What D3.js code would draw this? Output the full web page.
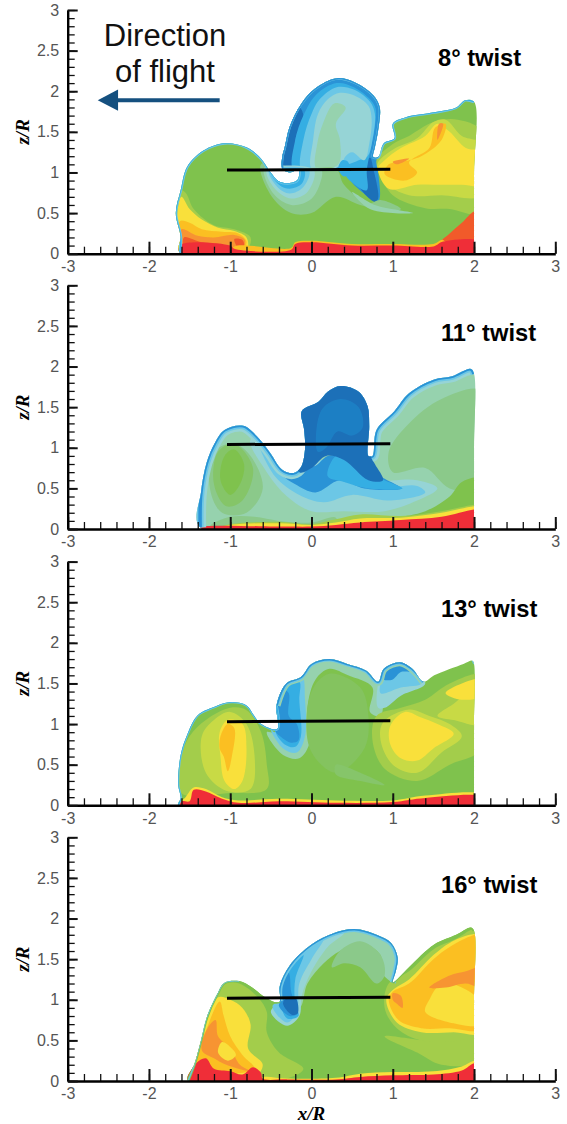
<!DOCTYPE html>
<html><head><meta charset="utf-8">
<script src="https://cdn.jsdelivr.net/npm/d3@7"></script>
<style>html,body{margin:0;padding:0;background:#fff}svg{display:block}</style>
</head><body><div id="chart"></div>
<script>
const xMajor=[-3,-2,-1,0,1,2,3];
const zMajor=[0,0.5,1,1.5,2,2.5,3];
const panelTitles=["8° twist","11° twist","13° twist","16° twist"];
const DB='#1f6fb8',B='#2b93d6',M='#36aee3',L='#6cc7e6',P='#96d4d6',PG='#96d2ae',SG='#8bc98a',G='#7fc24e',YG='#a3cd4c',LY='#c8da45',Y='#f9e03a',A='#fbbf24',O='#f79433',RO='#f15a2c',R='#ef2f38';

const p1Env=[[-1.62,0.01],[-1.61,0.21],[-1.67,0.5],[-1.61,0.78],[-1.53,1.07],[-1.33,1.27],[-1.07,1.36],[-0.8,1.31],[-0.62,1.17],[-0.51,1.01],[-0.4,0.89],[-0.27,0.87],[-0.17,0.91],[-0.16,1.03],[-0.27,1],[-0.36,1.05],[-0.36,1.19],[-0.33,1.31],[-0.27,1.56],[-0.13,1.84],[0.04,2.03],[0.31,2.16],[0.53,2.11],[0.76,1.95],[0.84,1.8],[0.82,1.52],[0.78,1.31],[0.76,1.19],[0.82,1.19],[0.89,1.36],[1.02,1.42],[1,1.6],[1.16,1.68],[1.51,1.74],[1.78,1.8],[1.89,1.89],[2,1.87],[2,1],[2,0.02],[2,0]];
const p1Under=[[G,[[-1.9,-0.2],[-1.9,2.4],[2.3,2.4],[2.3,-0.2]]],
[B,[[-0.36,1.03],[-0.37,1.2],[-0.3,1.5],[-0.13,1.86],[0.04,2.05],[0.31,2.18],[0.55,2.13],[0.78,1.97],[0.86,1.8],[0.84,1.5],[0.8,1.25],[0.82,0.65],[0.55,0.82],[0.38,1],[0.1,1.03]]],
[DB,[[-0.36,1.03],[-0.38,1.2],[-0.3,1.5],[-0.15,1.8],[-0.1,1.7],[-0.2,1.4],[-0.2,1.03]]],
[DB,[[0.58,0.85],[0.78,0.64],[0.82,0.68],[0.76,1.05],[0.72,1.18],[0.62,1.03]]],
[M,[[-0.22,1.03],[-0.2,1.4],[-0.1,1.7],[0.06,1.96],[0.31,2.1],[0.52,2.05],[0.72,1.9],[0.79,1.78],[0.77,1.5],[0.72,1.25],[0.68,1.02],[0.68,0.78],[0.45,0.92],[0.33,1.1],[0.1,1.03]]],
[L,[[-0.12,1.03],[-0.1,1.4],[0,1.72],[0.1,1.9],[0.31,2.05],[0.52,2.02],[0.72,1.87],[0.78,1.72],[0.75,1.4],[0.69,1.2],[0.58,1.15],[0.45,1.1],[0.33,1.1],[0.15,1.03]]],
[P,[[0,1.05],[0.02,1.4],[0.08,1.72],[0.2,1.9],[0.35,1.98],[0.52,1.95],[0.7,1.82],[0.74,1.65],[0.71,1.35],[0.65,1.15],[0.5,1.25],[0.42,1.2],[0.35,1.08],[0.15,1.03]]],
[M,[[0.33,1.05],[0.38,1.15],[0.45,1.13],[0.47,1],[0.4,0.95]]],
[PG,[[0.06,1.05],[0.07,1.35],[0.14,1.6],[0.28,1.85],[0.42,1.8],[0.3,1.6],[0.35,1.4],[0.33,1.1]]],
[SG,[[-0.62,1.1],[-0.5,0.72],[-0.25,0.5],[0,0.5],[0.3,0.7],[0.6,0.6],[0.95,0.52],[1.1,0.55],[0.85,0.66],[0.7,0.62],[0.4,0.85],[0.3,1.05],[0,1.05],[-0.16,1.05]]],
[PG,[[-0.58,1.06],[-0.47,0.74],[-0.25,0.6],[-0.02,0.66],[0.1,0.85],[0.12,1.04],[-0.16,1.05]]],
[P,[[-0.55,1.03],[-0.45,0.8],[-0.25,0.68],[-0.05,0.76],[0.03,1.03]]],
[L,[[-0.52,1.02],[-0.42,0.82],[-0.27,0.74],[-0.1,0.82],[-0.03,1.03]]],
[M,[[-0.5,1],[-0.4,0.85],[-0.27,0.8],[-0.12,0.86],[-0.09,1.03]]],
[PG,[[0.5,0.76],[0.78,0.6],[1.05,0.54],[1.25,0.5],[1,0.5],[0.7,0.56]]],
[YG,[[0.8,1.15],[0.86,0.95],[1,0.72],[1.4,0.56],[1.7,0.55],[2.1,0.5],[2.1,1.5],[1.8,1.65],[1.5,1.62],[1.2,1.45],[1,1.35]]],
[LY,[[0.81,1.1],[0.9,0.88],[1.2,0.72],[1.6,0.72],[2.1,0.72],[2.1,1.35],[1.85,1.45],[1.65,1.65],[1.5,1.62],[1.3,1.42],[1,1.28]]],
[Y,[[0.82,1.05],[0.95,0.8],[1.3,0.85],[1.6,0.85],[1.85,0.85],[2.1,0.85],[2.1,1.25],[1.9,1.3],[1.7,1.5],[1.55,1.6],[1.4,1.45],[1.1,1.3],[0.9,1.15]]],
[A,[[0.95,1.1],[0.9,0.98],[1.15,0.9],[1.3,1],[1.2,1.12],[1.45,1.3],[1.52,1.55],[1.65,1.6],[1.6,1.4],[1.35,1.2],[1.1,1.13]]],
[O,[[1,1.13],[1.2,1.17],[1.05,1.1]]],[O,[[1.55,1.4],[1.62,1.6],[1.57,1.6]]],
[YG,[[-1.65,0.8],[-1.55,0.75],[-1.45,0.55],[-1.2,0.35],[-0.95,0.3],[-0.75,0.2],[-0.8,0.05],[-1.65,0]]],
[Y,[[-1.6,0.7],[-1.5,0.55],[-1.35,0.42],[-1.15,0.32],[-0.95,0.28],[-0.8,0.2],[-0.8,0.05],[-1.65,0.02],[-1.66,0.4]]],
[A,[[-1.62,0.4],[-1.5,0.38],[-1.35,0.3],[-1.1,0.27],[-0.9,0.25],[-0.8,0.15],[-0.85,0.05],[-1.6,0.03]]],
[O,[[-1.6,0.3],[-1.4,0.22],[-1.2,0.2],[-0.95,0.23],[-0.82,0.17],[-0.85,0.08],[-1.58,0.05]]],
[RO,[[-1.57,0.2],[-1.35,0.14],[-1.1,0.1],[-1,0.06],[-1.55,0.05]]],[RO,[[-0.95,0.18],[-0.85,0.17],[-0.83,0.09],[-0.9,0.07]]],
[RO,[[1.55,0.1],[1.7,0.25],[1.85,0.38],[2,0.52],[2.1,0.52],[2.1,0.1]]],
[A,[[-1,0],[-0.95,0.09],[-0.25,0.07],[-0.2,0.14],[0,0.16],[0.5,0.12],[1,0.12],[1.5,0.12],[1.62,0.17],[1.7,0],[0,-0.05]]],
[R,[[-1.62,0],[-1.61,0.11],[-1,0.1],[-0.95,0.06],[-0.25,0.05],[-0.2,0.12],[0,0.14],[0.5,0.1],[1,0.1],[1.5,0.09],[1.62,0.15],[2.1,0.15],[2.1,0]]]];
const p1Rim=[[3,L,0,36],[1.2,M,0,15],[2.4,B,15,28],[1.2,M,28,36]];
const p1Over=[];
const p1Bar=[[-1.04,1.03],[0.97,1.04]];

const p2Env=[[-1.37,0.02],[-1.36,0.45],[-1.29,0.82],[-1.19,1.06],[-1.07,1.22],[-0.84,1.27],[-0.67,1.14],[-0.51,0.94],[-0.36,0.73],[-0.22,0.69],[-0.13,0.76],[-0.08,0.98],[-0.09,1.22],[-0.12,1.45],[0.09,1.57],[0.2,1.69],[0.36,1.76],[0.58,1.69],[0.69,1.51],[0.71,1.27],[0.7,0.9],[0.75,0.9],[0.8,1.22],[1.02,1.45],[1.2,1.67],[1.51,1.84],[1.73,1.88],[1.96,1.97],[2,1.91],[2,1],[2,0.02],[2,0]];
const p2Under=[[PG,[[-1.5,-0.2],[-1.5,2.4],[2.3,2.4],[2.3,-0.2]]],
[SG,[[-1.2,0.95],[-1.25,0.5],[-1.1,0.2],[-0.8,0.2],[-0.6,0.5],[-0.75,0.9],[-0.95,1.05]]],
[SG,[[0.95,0.95],[1.2,1.3],[1.6,1.6],[2.1,1.7],[2.1,0.5],[1.7,0.5],[1.4,0.75],[1,0.7]]],
['#85c568',[[-1.15,0.95],[-1.2,0.55],[-1.05,0.28],[-0.85,0.35],[-0.72,0.75],[-0.95,1.05]]],
[G,[[-1.07,0.9],[-1.12,0.6],[-1,0.42],[-0.88,0.55],[-0.83,0.8],[-0.95,0.98]]],
[SG,[[-1.25,0.03],[-1,0.15],[-0.7,0.15],[-0.4,0.1],[0,0.08],[0.3,0.14],[0.3,0],[-1,-0.05]]],
[G,[[0.6,0.12],[1,0.14],[1.4,0.22],[1.7,0.4],[1.85,0.58],[2.1,0.62],[2.1,0.1]]],
[P,[[-0.75,1.1],[-0.55,0.7],[-0.3,0.4],[0,0.22],[0.4,0.22],[0.9,0.22],[1.3,0.35],[1.55,0.5],[1.3,0.6],[0.6,0.6],[0,0.9]]],
[L,[[-0.65,1.05],[-0.45,0.65],[-0.15,0.42],[0.15,0.33],[0.5,0.42],[0.95,0.35],[1.4,0.45],[1.3,0.53],[1,0.52],[0.6,0.52],[0.3,0.68],[0.2,0.8],[0.12,0.85],[0.05,0.65],[-0.15,0.55],[-0.35,0.68]]],
[B,[[-0.55,0.98],[-0.38,0.68],[-0.2,0.55],[0.05,0.45],[0.35,0.6],[0.65,0.5],[1.1,0.5],[0.9,0.62],[0.75,0.7],[0.45,0.88],[0.2,0.9],[0.05,0.78],[-0.1,0.75],[-0.2,0.68],[-0.38,0.73]]],
[M,[[0.2,0.65],[0.3,0.9],[0.45,0.88],[0.6,0.75],[0.9,0.6],[1.12,0.5],[0.7,0.5],[0.4,0.58]]],
[YG,[[-1.2,0],[-1,0.06],[-0.4,0.09],[0,0.06],[0.3,0.12],[0.6,0.18],[1.1,0.16],[1.6,0.22],[2,0.3],[2.1,0.3],[2.1,0]]],
[Y,[[-1.2,0],[-1,0.05],[-0.4,0.07],[0,0.05],[0.3,0.08],[0.6,0.13],[1.1,0.14],[1.6,0.2],[2,0.28],[2.1,0.28],[2.1,0]]],
[R,[[-1.37,0],[-1.37,0.02],[-0.4,0.03],[0,0.03],[0.3,0.05],[0.6,0.08],[1.1,0.11],[1.6,0.15],[2,0.24],[2.1,0.24],[2.1,0]]]];
const p2Rim=[[12,P,0,28],[7,L,0,28],[3.5,B,0,28]];
const p2Over=[[DB,[[-0.15,0.7],[-0.14,1.5],[0.1,1.6],[0.2,1.72],[0.36,1.8],[0.6,1.72],[0.75,1.5],[0.73,0.9],[0.78,0.8],[0.88,0.6],[0.7,0.6],[0.4,0.85],[0.18,0.9],[0,0.75]]],
['#1f7fc4',[[0.08,0.95],[0.07,1.3],[0.15,1.5],[0.36,1.6],[0.58,1.5],[0.63,1.25],[0.5,1.15],[0.32,1.2],[0.18,1]]]];
const p2Bar=[[-1.04,1.04],[0.97,1.05]];

const p3Env=[[-1.64,0],[-1.61,0.09],[-1.64,0.25],[-1.61,0.62],[-1.53,0.87],[-1.4,1.11],[-1.2,1.21],[-1.02,1.27],[-0.8,1.23],[-0.71,1.11],[-0.62,1],[-0.42,0.94],[-0.43,1.23],[-0.31,1.5],[-0.13,1.58],[0,1.74],[0.22,1.8],[0.44,1.74],[0.67,1.66],[0.82,1.52],[0.89,1.68],[1.09,1.76],[1.24,1.68],[1.38,1.52],[1.51,1.6],[1.87,1.74],[1.98,1.78],[2,1.74],[2,1],[2,0.02],[2,0]];
const p3Under=[[G,[[-1.9,-0.2],[-1.9,2.4],[2.3,2.4],[2.3,-0.2]]],
[PG,[[-0.45,0.9],[-0.45,1.25],[-0.3,1.52],[-0.1,1.6],[0,1.77],[0.22,1.83],[0.5,1.77],[0.7,1.68],[0.85,1.5],[0.85,1.1],[0.72,1.15],[0.75,1.45],[0.45,1.6],[0.22,1.68],[0.05,1.55],[-0.05,1.2],[-0.02,0.78],[-0.15,0.58],[-0.35,0.62],[-0.55,0.9]]],
[L,[[-0.45,0.9],[-0.45,1.25],[-0.3,1.52],[-0.12,1.6],[-0.08,1.3],[-0.08,0.85],[-0.18,0.65],[-0.35,0.7],[-0.5,0.93]]],
[M,[[-0.45,0.92],[-0.45,1.25],[-0.32,1.5],[-0.15,1.52],[-0.15,1.3],[-0.13,0.85],[-0.2,0.72],[-0.33,0.75]]],
[B,[[-0.45,0.92],[-0.45,1.22],[-0.36,1.42],[-0.28,1.38],[-0.28,1.1],[-0.18,1],[-0.16,0.8],[-0.25,0.77],[-0.36,0.83]]],
[P,[[0.82,1.2],[0.82,1.5],[0.9,1.7],[1.09,1.78],[1.26,1.68],[1.4,1.5],[1.1,1.35],[0.9,1.2]]],
[L,[[0.85,1.38],[0.9,1.62],[1.09,1.72],[1.25,1.62],[1.35,1.5],[1.1,1.45]]],
[B,[[0.89,1.55],[0.92,1.68],[1.09,1.77],[1.23,1.65],[1.1,1.64],[1,1.55]]],
['#84c35f',[[-0.02,0.7],[0,1.4],[0.22,1.62],[0.6,1.45],[0.7,1.1],[0.65,0.7],[0.3,0.4]]],
['#86c56a',[[0.3,0.5],[0.6,0.4],[0.9,0.25],[0.6,0.3],[0.3,0.38]]],
[YG,[[-1.6,0.6],[-1.5,0.85],[-1.3,1.05],[-1,1.2],[-0.8,1.17],[-0.62,0.9],[-0.55,0.5],[-0.55,0.2],[-1,0.15],[-1.6,0.15]]],
[LY,[[-1.35,0.85],[-1.2,1.05],[-1,1.15],[-0.8,1],[-0.7,0.6],[-0.75,0.2],[-1.05,0.18],[-1.3,0.4]]],
[Y,[[-1.13,0.9],[-1.03,1.05],[-0.85,1],[-0.8,0.7],[-0.85,0.3],[-0.95,0.2],[-1.07,0.3],[-1.12,0.6]]],
[A,[[-1.12,0.85],[-1.03,1],[-0.95,0.95],[-0.98,0.6],[-1.03,0.42],[-1.08,0.6],[-1.13,0.7]]],
[YG,[[0.8,1.1],[0.75,0.8],[0.9,0.45],[1.3,0.3],[1.7,0.5],[2.1,0.7],[2.1,1.6],[1.7,1.5],[1.4,1.3],[1.1,1.2]]],
[LY,[[0.88,1.02],[0.85,0.8],[1,0.5],[1.3,0.4],[1.6,0.65],[1.85,0.85],[1.7,1],[1.45,1.1],[1.2,1.18]]],
[Y,[[0.97,0.98],[0.97,0.75],[1.1,0.58],[1.3,0.55],[1.5,0.7],[1.75,0.88],[1.55,1],[1.35,1.08],[1.15,1.15]]],
[LY,[[1.55,1.1],[1.75,1.25],[2.1,1.5],[2.1,1],[1.75,1.05]]],
[Y,[[1.65,1.38],[1.85,1.5],[2.1,1.55],[2.1,1.35],[1.85,1.3]]],
[Y,[[-1.64,0],[-1.55,0.1],[-1.45,0.22],[-1.3,0.2],[-1.1,0.1],[-0.9,0.06],[-0.4,0.08],[0.3,0.06],[1,0.06],[1.4,0.12],[2.1,0.13],[2.1,0]]],
[R,[[-1.64,0],[-1.6,0.05],[-1.5,0.05],[-1.45,0.19],[-1.3,0.17],[-1.1,0.08],[-0.9,0.03],[-0.4,0.05],[0.3,0.03],[1,0.04],[1.4,0.09],[2.1,0.1],[2.1,0]]]];
const p3Rim=[[2.5,L,0,12],[1.2,M,0,12],[8,PG,12,23],[5,L,12,23],[2.6,B,12,23],[1.5,L,26,27]];
const p3Over=[];
const p3Bar=[[-1.04,1.03],[0.97,1.04]];

const p4Env=[[-1.52,0],[-1.44,0.21],[-1.36,0.5],[-1.29,0.78],[-1.16,1.07],[-1.07,1.21],[-0.89,1.23],[-0.73,1.15],[-0.6,1.05],[-0.44,0.97],[-0.39,0.98],[-0.39,1.17],[-0.27,1.42],[0,1.68],[0.27,1.82],[0.53,1.87],[0.8,1.8],[0.98,1.7],[1.06,1.52],[1.04,1.36],[1,1.21],[1.2,1.4],[1.51,1.68],[1.78,1.8],[1.96,1.89],[2,1.85],[2,1],[2,0.02],[2,0]];
const p4Under=[[G,[[-1.9,-0.2],[-1.9,2.4],[2.3,2.4],[2.3,-0.2]]],
[PG,[[-0.39,1],[-0.39,1.18],[-0.25,1.45],[0,1.7],[0.27,1.85],[0.53,1.9],[0.8,1.83],[1,1.72],[1.1,1.52],[1.05,1.2],[0.85,1.35],[0.85,1.55],[0.6,1.7],[0.35,1.6],[0.15,1.45],[-0.05,1.2],[-0.15,0.9]]],
[SG,[[0.25,1.4],[0.35,1.6],[0.6,1.72],[0.85,1.55],[0.9,1.3],[0.8,1.2],[0.6,1.4],[0.4,1.45]]],
[P,[[-0.39,1],[-0.39,1.18],[-0.25,1.45],[0,1.7],[0.27,1.83],[0.4,1.82],[0.2,1.65],[0,1.35],[-0.12,1.05],[-0.15,0.8],[-0.3,0.68],[-0.5,0.85]]],
[L,[[-0.39,1],[-0.39,1.18],[-0.25,1.43],[0,1.68],[0.15,1.75],[0,1.5],[-0.15,1.2],[-0.18,0.85],[-0.3,0.72],[-0.48,0.92]]],
[M,[[-0.39,1],[-0.39,1.18],[-0.27,1.4],[-0.1,1.55],[-0.2,1.25],[-0.2,0.95],[-0.16,0.8],[-0.3,0.77]]],
[B,[[-0.39,0.98],[-0.37,1.18],[-0.28,1.33],[-0.25,1.1],[-0.22,1],[-0.17,0.83],[-0.27,0.8],[-0.4,0.92]]],
[DB,[[-0.35,0.95],[-0.33,1],[-0.2,1.03],[-0.17,0.83],[-0.25,0.82]]],
[YG,[[-1.52,0],[-1.36,0.5],[-1.2,1.1],[-1.07,1.2],[-0.89,1.2],[-0.65,1.02],[-0.55,0.85],[-0.55,0.6],[-0.4,0.35],[-0.1,0.15],[-0.3,0.03],[-1,0]]],
[Y,[[-1.48,0.1],[-1.3,0.7],[-1.15,1.03],[-1,1],[-0.85,0.9],[-0.75,0.7],[-0.78,0.4],[-0.6,0.2],[-0.7,0.05],[-1.3,0.03]]],
[A,[[-1.45,0.18],[-1.3,0.62],[-1.13,0.98],[-1.08,0.8],[-1,0.55],[-0.85,0.32],[-0.7,0.15],[-1.3,0.1]]],
[O,[[-1.35,0.38],[-1.28,0.65],[-1.18,0.75],[-1.15,0.55],[-1,0.4],[-0.88,0.2],[-0.75,0.12],[-1.05,0.2],[-1.2,0.28]]],
[Y,[[-1.1,0.48],[-1,0.42],[-0.93,0.32],[-1.03,0.25],[-1.15,0.35]]],
[YG,[[0.9,0.55],[1.3,0.35],[1.6,0.2],[2.1,0.25],[2.1,0.7],[1.6,0.5]]],
[YG,[[0.95,1.2],[0.9,0.9],[1.05,0.65],[1.35,0.5],[1.8,0.5],[2.1,0.6],[2.1,1.9],[1.96,1.86],[1.78,1.75],[1.5,1.62],[1.2,1.35]]],
[Y,[[0.92,1],[1.05,0.72],[1.35,0.6],[1.75,0.6],[2.1,0.6],[2.1,1.8],[1.95,1.8],[1.7,1.7],[1.5,1.55],[1.2,1.25],[1,1.12]]],
[A,[[0.95,1],[1.07,0.75],[1.35,0.65],[1.7,0.65],[2.1,0.65],[2.1,1.8],[1.95,1.78],[1.7,1.65],[1.5,1.5],[1.2,1.2],[1,1.1]]],
[Y,[[1.4,0.85],[1.45,1],[1.6,1.2],[1.85,1.15],[2.1,0.95],[2.1,0.7],[1.8,0.7]]],
[O,[[1.45,1.15],[1.7,1.3],[1.9,1.35],[2.1,1.4],[2.1,1.15],[1.9,1.2],[1.65,1.15]]],
[O,[[1,1],[1.05,0.95],[1.12,0.9],[1.1,1.05],[1,1.08]]],
[Y,[[-0.7,0],[-0.6,0.05],[-0.3,0.03],[0.3,0.04],[0.6,0.09],[1,0.11],[1.5,0.12],[1.85,0.18],[2,0.25],[2.1,0.25],[2.1,0]]],
[R,[[-1.52,0],[-1.42,0.22],[-1.3,0.28],[-1.2,0.15],[-1,0.12],[-0.85,0.08],[-0.72,0.17],[-0.62,0.1],[-0.6,0.03],[-0.3,0.02],[0.3,0.02],[0.6,0.05],[1,0.07],[1.5,0.08],[1.85,0.13],[2,0.22],[2.1,0.22],[2.1,0]]]];
const p4Rim=[[3,G,0,10],[1.2,L,0,6],[6,L,10,20],[2.6,B,10,20],[3,G,20,25]];
const p4Over=[];
const p4Bar=[[-1.04,1.02],[0.97,1.03]];

const envelopes=[p1Env,p2Env,p3Env,p4Env];
const unders=[p1Under,p2Under,p3Under,p4Under];
const rims=[p1Rim,p2Rim,p3Rim,p4Rim];
const overs=[p1Over,p2Over,p3Over,p4Over];
const bars=[p1Bar,p2Bar,p3Bar,p4Bar];
const arrowFlight=[[-1.13,1.89],[-2.4,1.89]];
const arrowHead=[[-2.63,1.89],[-2.38,2.02],[-2.38,1.76]];

const W=567,H=1124;
const xLeft=67.7,xRight=555.3;
const bottoms=[253.7,529,805.3,1081];
const ph=243.7;
const x=d3.scaleLinear().domain([-3,3]).range([xLeft,xRight]);
const svg=d3.select('#chart').append('svg').attr('width',W).attr('height',H).attr('viewBox',[0,0,W,H]);
const defs=svg.append('defs');
defs.append('filter').attr('id','soft').attr('x','-5%').attr('y','-5%').attr('width','110%').attr('height','110%')
  .append('feGaussianBlur').attr('stdDeviation',0.7);
const seq=(a,b,s)=>d3.range(Math.round((b-a)/s)+1).map(i=>+(a+i*s).toFixed(2));

bottoms.forEach((b,i)=>{
  const y=d3.scaleLinear().domain([0,3]).range([b,b-ph]);
  const closed=d3.line().x(d=>x(d[0])).y(d=>y(d[1])).curve(d3.curveCatmullRomClosed.alpha(0.5));
  const open=d3.line().x(d=>x(d[0])).y(d=>y(d[1])).curve(d3.curveCatmullRom.alpha(0.5));
  const straight=d3.line().x(d=>x(d[0])).y(d=>y(d[1]));
  const g=svg.append('g');
  defs.append('clipPath').attr('id','env'+i).append('path').attr('d',closed(envelopes[i]));
  defs.append('clipPath').attr('id','plot'+i).append('rect').attr('x',xLeft).attr('y',b-ph).attr('width',xRight-xLeft).attr('height',ph);
  const field=g.append('g').attr('clip-path',`url(#plot${i})`).append('g').attr('filter','url(#soft)').append('g').attr('clip-path',`url(#env${i})`);
  unders[i].forEach(l=>field.append('path').attr('d',closed(l[1])).attr('fill',l[0]));
  rims[i].forEach(r=>field.append('path').attr('d',open(envelopes[i].slice(r[2],r[3]+1)))
    .attr('fill','none').attr('stroke',r[1]).attr('stroke-width',r[0]));
  overs[i].forEach(l=>field.append('path').attr('d',closed(l[1])).attr('fill',l[0]));

  const axX=g.append('g').attr('transform',`translate(0,${b})`);
  axX.call(d3.axisBottom(x).tickValues(seq(-3,3,0.2)).tickSize(-7).tickFormat('')).call(s=>s.select('.domain').remove());
  const major=g.append('g').attr('transform',`translate(0,${b})`)
    .call(d3.axisBottom(x).tickValues(xMajor).tickSize(-12).tickSizeOuter(0).tickPadding(7).tickFormat(d=>d));
  major.select('.domain').attr('stroke-width',2.4);
  const axY=g.append('g').attr('transform',`translate(${xLeft},0)`);
  axY.call(d3.axisLeft(y).tickValues(seq(0,3,0.1)).tickSize(-7).tickFormat('')).call(s=>s.select('.domain').remove());
  const majorY=g.append('g').attr('transform',`translate(${xLeft},0)`)
    .call(d3.axisLeft(y).tickValues(zMajor).tickSize(-10).tickSizeOuter(0).tickPadding(8.5).tickFormat(d=>d));
  majorY.select('.domain').attr('stroke-width',2.4);
  g.selectAll('.tick line').attr('stroke','#111').attr('stroke-width',1.3);
  major.selectAll('.tick line').attr('stroke-width',2);
  majorY.selectAll('.tick line').attr('stroke-width',2);
  g.selectAll('.tick text').attr('font-family','"Liberation Sans",Arial,sans-serif').attr('font-size',16).attr('fill','#555');

  g.append('path').attr('d',straight(bars[i])).attr('stroke','#000').attr('stroke-width',3).attr('fill','none');
  g.append('text').attr('transform',`translate(29,${y(1.5)}) rotate(-90)`).attr('text-anchor','middle')
    .attr('font-family','"Liberation Serif",serif').attr('font-weight','bold').attr('font-style','italic').attr('font-size',19).text('z/R');
  g.append('text').attr('x',i===0?438:441).attr('y',b-188).attr('font-family','"Liberation Sans",Arial,sans-serif')
    .attr('font-weight','bold').attr('font-size',23.7).text(panelTitles[i]);

  if(i===0){
    g.append('path').attr('d',straight(arrowFlight)).attr('stroke','#15507f').attr('stroke-width',4).attr('fill','none');
    g.append('path').attr('d',straight(arrowHead)+'Z').attr('fill','#15507f');
    ['Direction','of flight'].forEach((t,k)=>g.append('text').attr('x',165).attr('y',46+k*36).attr('text-anchor','middle')
      .attr('font-family','"Liberation Sans",Arial,sans-serif').attr('font-size',31).attr('fill','#111').text(t));
  }
  if(i===3){
    g.append('text').attr('x',x(0)).attr('y',b+39).attr('text-anchor','middle').attr('font-family','"Liberation Serif",serif')
      .attr('font-weight','bold').attr('font-style','italic').attr('font-size',19).text('x/R');
  }
});
</script></body></html>
